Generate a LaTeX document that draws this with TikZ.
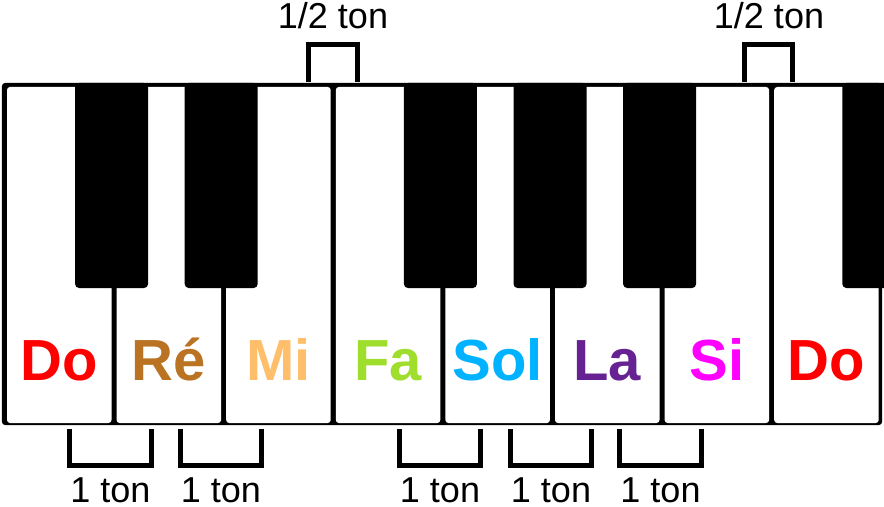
\documentclass[tikz,border=0pt]{standalone}
\usepackage{fontspec}
\setmainfont{Liberation Sans}
\usepackage{tikz}
\usetikzlibrary{positioning}
\definecolor{cdo}{RGB}{255,0,0}
\definecolor{cre}{RGB}{185,115,35}
\definecolor{cmi}{RGB}{255,190,105}
\definecolor{cfa}{RGB}{160,222,45}
\definecolor{csol}{RGB}{0,178,255}
\definecolor{cla}{RGB}{102,34,146}
\definecolor{csi}{RGB}{255,0,255}

\begin{document}
\begin{tikzpicture}[
		whitekey/.style={fill=white, rounded corners=0.06cm, minimum width=2.09cm, minimum height=6.72cm, inner sep=0, outer sep=0},
		blackkey/.style={fill=black, rounded corners=0.08cm, minimum width=1.46cm, minimum height=4.1cm, inner sep=0, outer sep=0},
		note/.style={anchor=base, inner sep=0, font=\fontsize{33}{38}\selectfont\bfseries},
		bracket/.style={line width=0.1cm},
		tonlabel/.style={anchor=base, inner sep=0, font=\fontsize{20.5}{24}\selectfont}]
			\useasboundingbox (0,0) rectangle (17.68,-10.14);
			\clip (0,0) rectangle (17.68,-10.14);
			\fill[rounded corners=0.06cm] (0.04,-1.66) rectangle (17.64,-8.5);
			
			\node(k1) [whitekey] at (1.185,-5.1)  {};
			\node(k2) [whitekey] at (3.377,-5.1)  {};
			\node(k3) [whitekey] at (5.569,-5.1)  {};
			\node(k4) [whitekey] at (7.761,-5.1)  {};
			\node(k5) [whitekey] at (9.953,-5.1)  {};
			\node(k6) [whitekey] at (12.145,-5.1)  {};
			\node(k7) [whitekey] at (14.337,-5.1)  {};
			\node(k8) [whitekey] at (16.529,-5.1)  {};
			
			\node(b1) [blackkey] at (2.232,-3.71)  {};
			\node(b2) [blackkey] at (4.424,-3.71)  {};
			\node(b3) [blackkey] at (8.808,-3.71)  {};
			\node(b4) [blackkey] at (11.0,-3.71)  {};
			\node(b5) [blackkey] at (13.192,-3.71)  {};
			\node(b6) [blackkey] at (17.576,-3.71)  {};
			
			\node(do) [note, text=cdo] at (1.185,-7.6)  {Do};
			\node(re) [note, text=cre] at (3.377,-7.6)  {Ré};
			\node(mi) [note, text=cmi] at (5.569,-7.6)  {Mi};
			\node(fa) [note, text=cfa] at (7.761,-7.6)  {Fa};
			\node(sol) [note, text=csol] at (9.953,-7.6)  {Sol};
			\node(la) [note, text=cla] at (12.145,-7.6)  {La};
			\node(si) [note, text=csi] at (14.337,-7.6)  {Si};
			\node(do2) [note, text=cdo] at (16.529,-7.6)  {Do};
			
			\coordinate(h1) at (6.17,-1.64);
			\coordinate(h2) at (7.15,-1.64);
			\coordinate(h3) at (14.89,-1.64);
			\coordinate(h4) at (15.85,-1.64);
			\draw[bracket] (h1) -- ++(0,0.75) -| (h2);
			\draw[bracket] (h3) -- ++(0,0.75) -| (h4);
			\node(ht1) [tonlabel] at (6.66,-0.58)  {1/2 ton};
			\node(ht2) [tonlabel] at (15.38,-0.58)  {1/2 ton};
			
			\coordinate(l1) at (1.39,-8.58);
			\coordinate(l2) at (3.03,-8.58);
			\coordinate(l3) at (3.61,-8.58);
			\coordinate(l4) at (5.23,-8.58);
			\coordinate(l5) at (7.99,-8.58);
			\coordinate(l6) at (9.61,-8.58);
			\coordinate(l7) at (10.21,-8.58);
			\coordinate(l8) at (11.83,-8.58);
			\coordinate(l9) at (12.39,-8.58);
			\coordinate(l10) at (14.03,-8.58);
			\draw[bracket] (l1) -- ++(0,-0.73) -| (l2);
			\draw[bracket] (l3) -- ++(0,-0.73) -| (l4);
			\draw[bracket] (l5) -- ++(0,-0.73) -| (l6);
			\draw[bracket] (l7) -- ++(0,-0.73) -| (l8);
			\draw[bracket] (l9) -- ++(0,-0.73) -| (l10);
			
			\node(t1) [tonlabel] at (2.21,-10.04)  {1 ton};
			\node(t2) [tonlabel] at (4.42,-10.04)  {1 ton};
			\node(t3) [tonlabel] at (8.80,-10.04)  {1 ton};
			\node(t4) [tonlabel] at (11.02,-10.04)  {1 ton};
			\node(t5) [tonlabel] at (13.21,-10.04)  {1 ton};
		\end{tikzpicture}
\end{document}
